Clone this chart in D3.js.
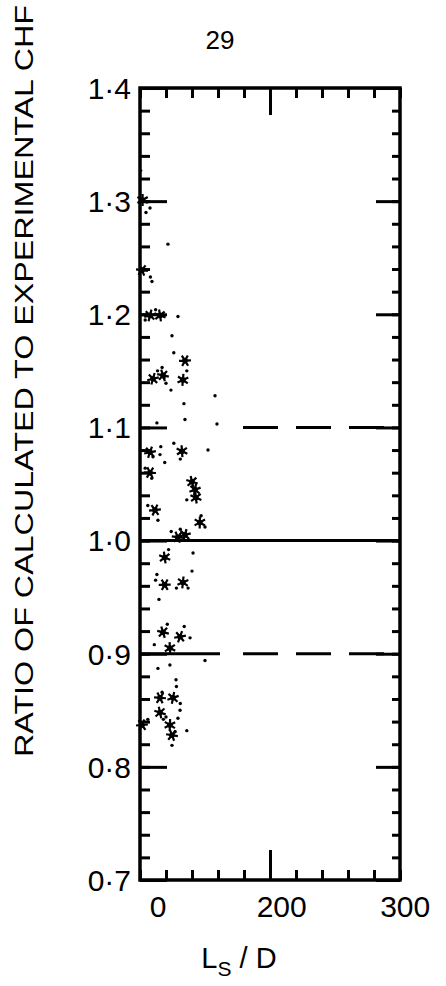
<!DOCTYPE html>
<html>
<head>
    <meta charset="utf-8">
    <style>
        body { margin: 0; background: #fff; }
        text { font-family: "Liberation Sans", "DejaVu Sans", sans-serif; fill: #000; }
    </style>
</head>
<body>
    <script src="https://d3js.org/d3.v7.min.js"></script>
    <script>
        const width = 446;
        const height = 986;

        // Ls/D and ratio (calculated / experimental CHF)
        const starX = [102, 101.5, 107.7, 115.4, 134.6, 133, 117.7, 107.7, 132.3, 107.7, 142.3, 140, 111.5, 146, 129, 134.6, 119, 119, 133, 117.7, 130.8, 123, 115.4, 125.4, 115.4, 101.5, 123, 124.6, 110, 143];
        const starY = [1.301, 1.239, 1.199, 1.199, 1.159, 1.142, 1.146, 1.078, 1.079, 1.060, 1.045, 1.052, 1.027, 1.016, 1.003, 1.005, 0.985, 0.961, 0.963, 0.919, 0.915, 0.905, 0.861, 0.861, 0.848, 0.837, 0.837, 0.828, 1.143, 1.038];
        const dotX = [100.5, 104.6, 107.7, 121.5, 109.2, 129.2, 124.6, 117, 118.5, 123.8, 157.7, 133.8, 134.6, 159.2, 113, 152.3, 115.4, 119, 113.8, 106, 140.8, 113, 140, 114.6, 138.5, 150, 113.8, 123, 127.7, 130.8, 129.2, 124.6, 108,
                      112, 104, 113.5, 120, 126, 136, 131, 110, 116, 104, 109, 126, 136, 147, 150, 124, 131, 122, 137, 112, 128, 134, 121, 111, 117, 128, 131, 120, 127, 136, 106, 118];
        const dotY = [1.327, 1.290, 1.294, 1.262, 1.229, 1.198, 1.181, 1.153, 1.144, 1.133, 1.128, 1.121, 1.107, 1.103, 1.104, 1.080, 1.076, 1.069, 1.018, 1.031, 0.989, 0.970, 0.973, 0.948, 0.914, 0.894, 0.887, 0.890, 0.877, 0.850, 0.843, 0.819, 1.233,
                      1.204, 1.195, 1.150, 1.139, 1.166, 1.150, 1.072, 1.074, 1.083, 1.064, 1.055, 1.086, 1.036, 1.022, 1.012, 1.008, 1.010, 0.992, 0.958, 0.965, 0.958, 0.924, 0.926, 0.908, 0.866, 0.871, 0.856, 0.844, 0.831, 0.832, 0.842, 0.842];

        // axes
        const yMinor = d3.range(70, 141, 2).map(d => d / 100);
        const yMajor = [1.4, 1.3, 1.2, 1.1, 1.0, 0.9, 0.8, 0.7];
        const yLabels = ["1·4", "1·3", "1·2", "1·1", "1·0", "0·9", "0·8", "0·7"];
        const xMinor = d3.range(100, 301, 20);
        const xMajor = [200];
        const xLabels = ["0", "200", "300"];
        const xLabelAt = [114, 209, 304];
        const refSolid = [1.0];
        const refDashed = [1.1, 0.9];

        const pLeft = 140, pRight = 400, pTop = 88, pBottom = 880;

        const svg = d3.select("body").append("svg")
            .attr("width", width).attr("height", height);

        const x = d3.scaleLinear().domain([100, 300]).range([pLeft, pRight]);
        const y = d3.scaleLinear().domain([0.7, 1.4]).range([pBottom, pTop]);

        function ticks(axis, tx, ty, len, vals) {
            const g = svg.append("g").attr("transform", `translate(${tx},${ty})`)
                .call(axis.tickValues(vals).tickSize(len).tickFormat(""));
            g.select(".domain").remove();
            g.selectAll("line").attr("stroke", "#000").attr("stroke-width", 3);
            return g;
        }

        ticks(d3.axisLeft(y), pLeft, 0, -10, yMinor);
        ticks(d3.axisLeft(y), pLeft, 0, -27, yMajor);
        ticks(d3.axisRight(y), pRight, 0, -8, yMinor);
        ticks(d3.axisRight(y), pRight, 0, -24, yMajor);
        ticks(d3.axisTop(x), 0, pTop, -10, xMinor);
        ticks(d3.axisTop(x), 0, pTop, -27, xMajor);
        ticks(d3.axisBottom(x), 0, pBottom, -10, xMinor);
        ticks(d3.axisBottom(x), 0, pBottom, -30, xMajor);

        // reference lines
        svg.selectAll(".ref").data(refSolid).enter().append("line")
            .attr("x1", x(100)).attr("x2", x(300))
            .attr("y1", d => y(d)).attr("y2", d => y(d))
            .attr("stroke", "#000").attr("stroke-width", 3);

        svg.selectAll(".dash").data(refDashed).enter().append("line")
            .attr("x1", x(100)).attr("x2", x(300))
            .attr("y1", d => y(d)).attr("y2", d => y(d))
            .attr("stroke", "#000").attr("stroke-width", 3)
            .attr("stroke-dasharray", d => d > 1 ? "0 103 35 18 35 18 35 18 35" : "80 23 35 18 35 18 35 18 35");

        // frame
        svg.append("rect")
            .attr("x", pLeft).attr("y", pTop)
            .attr("width", pRight - pLeft).attr("height", pBottom - pTop)
            .attr("fill", "none").attr("stroke", "#000").attr("stroke-width", 3.5);

        // points
        svg.append("g").selectAll("path").data(starX).enter().append("path")
            .attr("transform", (d, i) => `translate(${x(d)},${y(starY[i])}) rotate(${(i * 37) % 60})`)
            .attr("d", d3.symbol(d3.symbolAsterisk, 100))
            .attr("fill", "none").attr("stroke", "#000").attr("stroke-width", 2.2);

        svg.append("g").selectAll("circle").data(starX).enter().append("circle")
            .attr("cx", d => x(d)).attr("cy", (d, i) => y(starY[i]))
            .attr("r", 2.8).attr("fill", "#000");

        svg.append("g").selectAll("circle").data(dotX).enter().append("circle")
            .attr("cx", d => x(d)).attr("cy", (d, i) => y(dotY[i]))
            .attr("r", 1.7).attr("fill", "#000");

        // tick labels
        svg.selectAll(".yl").data(yMajor).enter().append("text")
            .attr("x", pLeft - 9).attr("y", d => y(d))
            .attr("dy", "0.36em")
            .attr("text-anchor", "end")
            .attr("font-size", 30)
            .text((d, i) => yLabels[i]);

        svg.selectAll(".xl").data(xLabelAt).enter().append("text")
            .attr("x", d => x(d)).attr("y", pBottom + 37)
            .attr("text-anchor", "middle")
            .attr("font-size", 30)
            .text((d, i) => xLabels[i]);

        // axis titles
        const xt = svg.append("text")
            .attr("x", 239).attr("y", 968)
            .attr("text-anchor", "middle")
            .attr("font-size", 29);
        xt.append("tspan").text("L");
        xt.append("tspan").attr("font-size", 21).attr("dy", 8).text("S");
        xt.append("tspan").attr("dy", -8).text(" / D");

        svg.append("text")
            .attr("transform", "translate(33,757) rotate(-90)")
            .attr("font-size", 26)
            .attr("textLength", 752)
            .attr("lengthAdjust", "spacingAndGlyphs")
            .text("RATIO OF CALCULATED TO EXPERIMENTAL CHF");

        // page number
        svg.append("text")
            .attr("x", 220).attr("y", 49)
            .attr("text-anchor", "middle")
            .attr("font-size", 26)
            .text("29");
    </script>
</body>
</html>
